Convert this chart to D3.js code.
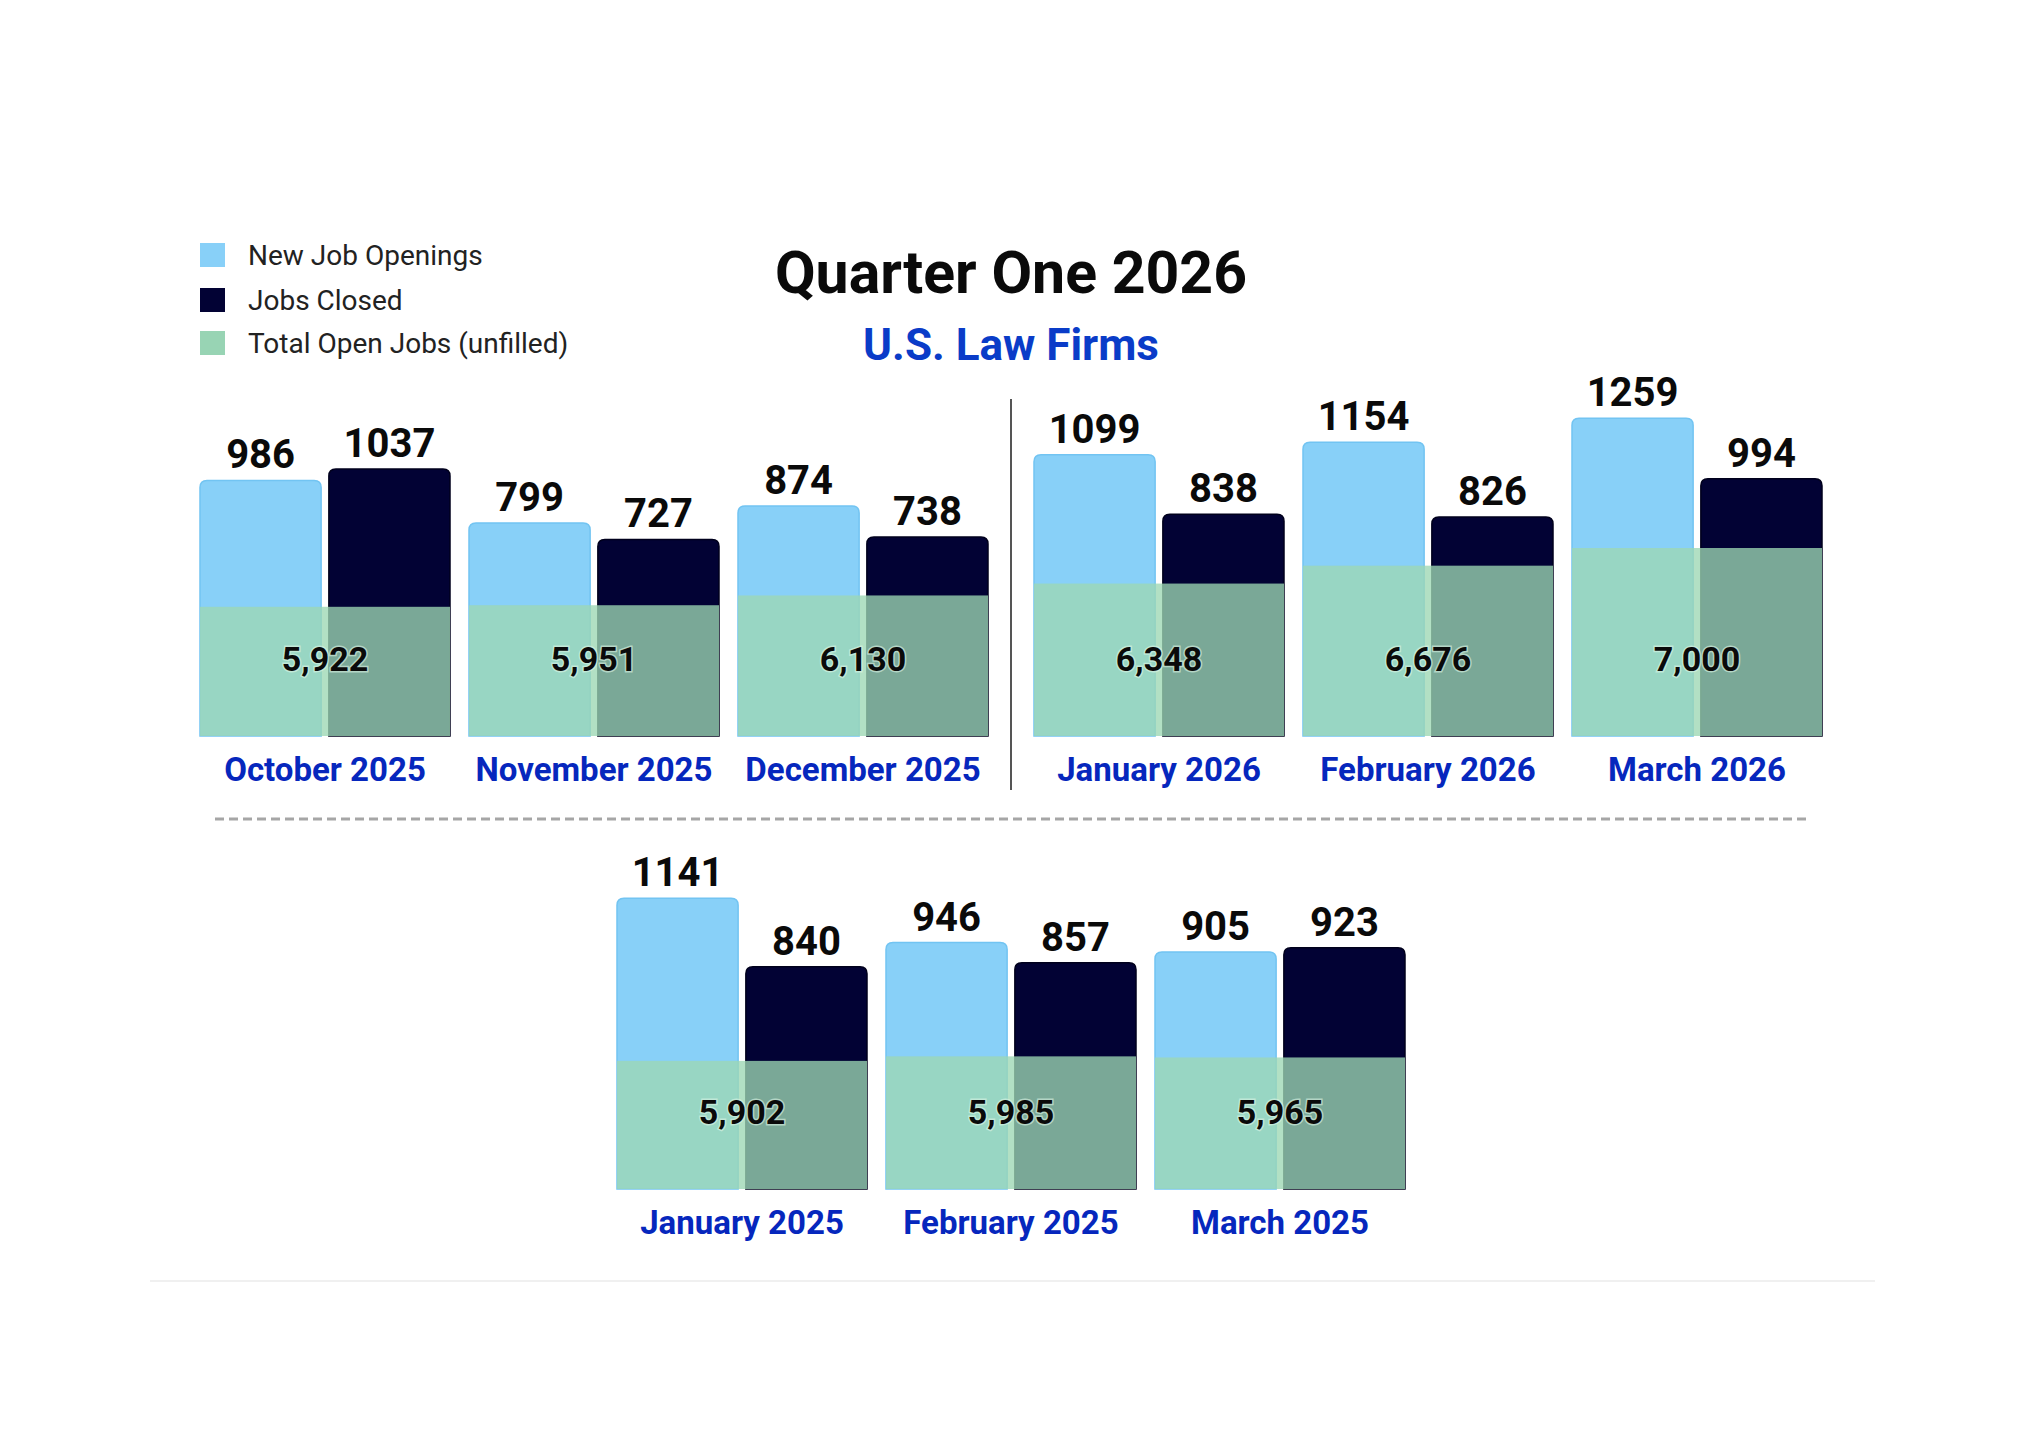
<!DOCTYPE html>
<html>
<head>
<meta charset="utf-8">
<script src="https://cdn.jsdelivr.net/npm/d3@7"></script>
<style>
  html, body { margin: 0; padding: 0; background: #ffffff; }
  svg { display: block; font-family: Roboto, "Noto Sans", sans-serif; }
</style>
</head>
<body>
<svg id="chart" width="2044" height="1432"></svg>
<script>
// ---------------- data ----------------
const topMonths    = ["October 2025", "November 2025", "December 2025", "January 2026", "February 2026", "March 2026"];
const topNew       = [986, 799, 874, 1099, 1154, 1259];
const topClosed    = [1037, 727, 738, 838, 826, 994];
const topTotal     = [5922, 5951, 6130, 6348, 6676, 7000];

const bottomMonths = ["January 2025", "February 2025", "March 2025"];
const bottomNew    = [1141, 946, 905];
const bottomClosed = [840, 857, 923];
const bottomTotal  = [5902, 5985, 5965];

const seriesKeys   = ["New Job Openings", "Jobs Closed"];
const legendLabels = ["New Job Openings", "Jobs Closed", "Total Open Jobs (unfilled)"];
const titleText    = "Quarter One 2026";
const subtitleText = "U.S. Law Firms";

// ---------------- styles ----------------
const C = {
  blue: "#88d0f8", blueStroke: "#72c4f2",
  navy: "#020234", navyStroke: "#00001c",
  green: "rgb(156,215,180)", greenOpacity: 0.78,
  legendGreen: "#98d4b4",
  label: "#0627bd", subtitle: "#0a3cc8"
};

const svg = d3.select("#chart");
const fmt = d3.format(",");

// scales
const barH = d3.scaleLinear().domain([0, 1300]).range([31, 327]);      // bar height
const totH = d3.scaleLinear().domain([5900, 7000]).range([128, 188]);  // overlay height
const inner = d3.scaleBand().domain(seriesKeys).range([0, 250]).paddingInner(0.06);

function roundTopPath(x, y, w, h, r) {
  r = Math.min(r, h, w / 2);
  return `M${x},${y + h}V${y + r}Q${x},${y} ${x + r},${y}H${x + w - r}Q${x + w},${y} ${x + w},${y + r}V${y + h}Z`;
}

function drawPanel(months, news, closeds, totals, xScale, baseY) {
  const g = svg.append("g");
  months.forEach((m, i) => {
    const gx = xScale(m);
    const vals = [news[i], closeds[i]];
    seriesKeys.forEach((k, j) => {
      const bx = gx + inner(k);
      const bw = inner.bandwidth();
      const h = barH(vals[j]);
      g.append("path")
        .attr("d", roundTopPath(bx, baseY - h, bw, h, 7))
        .attr("fill", j === 0 ? C.blue : C.navy)
        .attr("stroke", j === 0 ? C.blueStroke : C.navyStroke)
        .attr("stroke-width", 1.5);
      g.append("text")
        .attr("x", bx + bw / 2)
        .attr("y", baseY - h - 12)
        .attr("text-anchor", "middle")
        .attr("font-size", 40)
        .attr("font-weight", 700)
        .attr("fill", "#0a0a0a")
        .text(vals[j]);
    });
    const th = totH(totals[i]);
    g.append("rect")
      .attr("x", gx).attr("y", baseY - th)
      .attr("width", xScale.bandwidth()).attr("height", th)
      .attr("fill", C.green).attr("fill-opacity", C.greenOpacity);
    g.append("text")
      .attr("x", gx + xScale.bandwidth() / 2)
      .attr("y", baseY - 65)
      .attr("text-anchor", "middle")
      .attr("font-size", 34)
      .attr("font-weight", 700)
      .attr("fill", "#0a0a0a")
      .attr("stroke", "rgba(220,245,230,0.6)")
      .attr("stroke-width", 3)
      .attr("paint-order", "stroke")
      .text(fmt(totals[i]));
    g.append("text")
      .attr("x", gx + xScale.bandwidth() / 2)
      .attr("y", baseY + 45)
      .attr("text-anchor", "middle")
      .attr("font-size", 33)
      .attr("font-weight", 700)
      .attr("fill", C.label)
      .text(m);
  });
}

// top panel: two halves split by divider
const topBase = 736;
const xLeft  = d3.scaleBand().domain(topMonths.slice(0, 3)).range([200, 988]).paddingInner(19 / 269);
const xRight = d3.scaleBand().domain(topMonths.slice(3)).range([1034, 1822]).paddingInner(19 / 269);
drawPanel(topMonths.slice(0, 3), topNew.slice(0, 3), topClosed.slice(0, 3), topTotal.slice(0, 3), xLeft, topBase);
drawPanel(topMonths.slice(3), topNew.slice(3), topClosed.slice(3), topTotal.slice(3), xRight, topBase);

// bottom panel
const botBase = 1189;
const xBottom = d3.scaleBand().domain(bottomMonths).range([617, 1405]).paddingInner(19 / 269);
drawPanel(bottomMonths, bottomNew, bottomClosed, bottomTotal, xBottom, botBase);

// divider & separators
svg.append("line").attr("x1", 1011).attr("x2", 1011).attr("y1", 399).attr("y2", 790)
  .attr("stroke", "#555").attr("stroke-width", 2);
svg.append("line").attr("x1", 215).attr("x2", 1806).attr("y1", 819).attr("y2", 819)
  .attr("stroke", "#a6a6a6").attr("stroke-width", 3).attr("stroke-dasharray", "9,5");
svg.append("line").attr("x1", 150).attr("x2", 1875).attr("y1", 1281).attr("y2", 1281)
  .attr("stroke", "#f0f0f0").attr("stroke-width", 2);

// title
svg.append("text").attr("x", 1011).attr("y", 293).attr("text-anchor", "middle")
  .attr("font-size", 59).attr("font-weight", 700).attr("fill", "#0a0a0a").text(titleText);
svg.append("text").attr("x", 1011).attr("y", 360).attr("text-anchor", "middle")
  .attr("font-size", 44).attr("font-weight", 700).attr("fill", C.subtitle).text(subtitleText);

// legend
const legendColors = [C.blue, C.navy, C.legendGreen];
const legendY = [255, 300, 343];
legendLabels.forEach((t, i) => {
  svg.append("rect").attr("x", 200).attr("y", legendY[i] - 12).attr("width", 25).attr("height", 24)
    .attr("fill", legendColors[i]);
  svg.append("text").attr("x", 248).attr("y", legendY[i] + 10)
    .attr("font-size", 28).attr("fill", "#222").text(t);
});
</script>
</body>
</html>
